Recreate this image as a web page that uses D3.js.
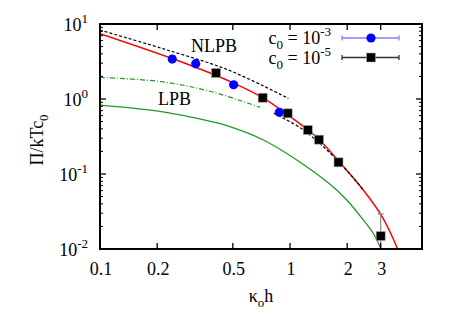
<!DOCTYPE html>
<html>
<head>
<meta charset="utf-8">
<script src="https://cdnjs.cloudflare.com/ajax/libs/d3/7.8.5/d3.min.js"></script>
<style>
    body { margin: 0; background: #fff; }
    text { font-family: "Liberation Serif", "Times New Roman", serif; fill: #000; }
</style>
</head>
<body>
<svg id="chart" width="474" height="332"></svg>
<script>
// tick values
const xTicks = [0.1, 0.2, 0.5, 1, 2, 3];
const yTickExps = [-2, -1, 0, 1];

// simulation points, c0 = 1e-3
const blueX = [0.24, 0.319, 0.505, 0.879];
const blueY = [3.41, 2.96, 1.55, 0.665];

// simulation points, c0 = 1e-5 (with error bar ends)
const blackX = [0.408, 0.718, 0.972, 1.24, 1.42, 1.8, 3.0];
const blackY = [2.22, 1.04, 0.644, 0.386, 0.287, 0.143, 0.0149];
const blackLo = [2.18, 1.02, 0.635, 0.378, 0.28, 0.139, 0.005];
const blackHi = [2.26, 1.06, 0.653, 0.394, 0.294, 0.148, 0.0293];

// theory curves
const redX = [0.1, 0.28, 0.505, 0.718, 0.92, 1.24, 1.42, 1.8, 2.43, 3.04, 3.44, 3.68];
const redY = [7.4, 2.99, 1.63, 1.04, 0.68, 0.39, 0.29, 0.149, 0.0612, 0.0275, 0.0149, 0.01];

const nlpbX1 = [0.1, 0.211, 0.473, 0.98];
const nlpbY1 = [8.3, 4.74, 2.44, 1.02];
const nlpbX2 = [0.82, 1.17, 1.8, 2.43];
const nlpbY2 = [0.645, 0.39, 0.147, 0.0612];

const lpbDashX = [0.1, 0.211, 0.387, 0.696];
const lpbDashY = [1.94, 1.70, 1.25, 0.774];

const lpbX = [0.1, 0.211, 0.387, 0.483, 0.724, 1.085, 1.624, 1.99, 2.43, 2.74, 3.02];
const lpbY = [0.83, 0.678, 0.498, 0.427, 0.284, 0.154, 0.073, 0.045, 0.0244, 0.0162, 0.0098];

let svg = d3.select('#chart');
let pLeft = 100, pRight = 422, pTop = 24, pBottom = 249;

let x = d3.scaleLog().domain([0.1, 4.95]).range([pLeft, pRight]);
let y = d3.scaleLog().domain([0.01, 10]).range([pBottom, pTop]);

svg.append('clipPath').attr('id', 'clip')
    .append('rect')
    .attr('x', pLeft).attr('y', pTop)
    .attr('width', pRight - pLeft).attr('height', pBottom - pTop);

let plot = svg.append('g').attr('clip-path', 'url(#clip)');

function drawCurve(xs, ys, color, width, dash) {
    let pts = xs.map((d, i) => [x(d), y(ys[i])]);
    plot.append('path')
        .attr('d', d3.line().curve(d3.curveCatmullRom.alpha(0.5))(pts))
        .attr('fill', 'none')
        .attr('stroke', color)
        .attr('stroke-width', width)
        .attr('stroke-dasharray', dash);
}

drawCurve(lpbX, lpbY, '#229922', 1.3, null);
drawCurve(lpbDashX, lpbDashY, '#229922', 1.2, '5,2,1,2');
drawCurve(redX, redY, '#ff0000', 1.5, null);
drawCurve(nlpbX1, nlpbY1, '#000', 1.2, '3,2');
drawCurve(nlpbX2, nlpbY2, '#000', 1.2, '3,2');

// error bars for black series
blackX.forEach(function(d, i) {
    let cx = x(d);
    let y1 = y(blackHi[i]), y2 = y(blackLo[i]);
    plot.append('line').attr('x1', cx).attr('x2', cx).attr('y1', y1).attr('y2', y2)
        .attr('stroke', '#888').attr('stroke-width', 1.2);
    plot.append('line').attr('x1', cx - 3).attr('x2', cx + 3).attr('y1', y1).attr('y2', y1)
        .attr('stroke', '#888').attr('stroke-width', 1.2);
});

plot.selectAll('.sq').data(blackX).enter().append('rect')
    .attr('class', 'sq')
    .attr('x', d => x(d) - 4.5)
    .attr('y', (d, i) => y(blackY[i]) - 4.5)
    .attr('width', 9).attr('height', 9)
    .attr('fill', '#000')
    .attr('stroke', '#aaa').attr('stroke-width', 0.6);

plot.selectAll('.dot').data(blueX).enter().append('circle')
    .attr('class', 'dot')
    .attr('cx', d => x(d))
    .attr('cy', (d, i) => y(blueY[i]))
    .attr('r', 4.6)
    .attr('fill', '#0000ff');

// frame
svg.append('rect')
    .attr('x', pLeft).attr('y', pTop)
    .attr('width', pRight - pLeft).attr('height', pBottom - pTop)
    .attr('fill', 'none').attr('stroke', '#000').attr('stroke-width', 2);

// x ticks (bottom and top, inward)
xTicks.forEach(function(t) {
    svg.append('line').attr('x1', x(t)).attr('x2', x(t)).attr('y1', pBottom).attr('y2', pBottom - 6)
        .attr('stroke', '#000').attr('stroke-width', 1.3);
    svg.append('line').attr('x1', x(t)).attr('x2', x(t)).attr('y1', pTop).attr('y2', pTop + 6)
        .attr('stroke', '#000').attr('stroke-width', 1.3);
    svg.append('text')
        .attr('x', x(t) + 1).attr('y', 275)
        .attr('text-anchor', 'middle')
        .style('font-size', '18px')
        .text(t);
});

// y ticks with minors, both sides
yTickExps.forEach(function(e) {
    let v = Math.pow(10, e);
    [[pLeft, 1], [pRight, -1]].forEach(function(s) {
        svg.append('line').attr('x1', s[0]).attr('x2', s[0] + s[1] * 6).attr('y1', y(v)).attr('y2', y(v))
            .attr('stroke', '#000').attr('stroke-width', 1.3);
        if (e < 1) {
            for (let m = 2; m <= 9; m++) {
                svg.append('line').attr('x1', s[0]).attr('x2', s[0] + s[1] * 3)
                    .attr('y1', y(m * v)).attr('y2', y(m * v))
                    .attr('stroke', '#000').attr('stroke-width', 1);
            }
        }
    });
    let lab = svg.append('text')
        .attr('x', 88).attr('y', y(v) + 6.5)
        .attr('text-anchor', 'end')
        .style('font-size', '18px');
    lab.append('tspan').text('10');
    lab.append('tspan').attr('dy', -8).style('font-size', '13px').text(e);
});

// axis titles
let xt = svg.append('text')
    .attr('x', 261).attr('y', 302)
    .attr('text-anchor', 'middle')
    .style('font-size', '18px');
xt.append('tspan').text('\u03ba');
xt.append('tspan').attr('dy', 5).style('font-size', '13px').text('o');
xt.append('tspan').attr('dy', -5).text('h');

let yt = svg.append('text')
    .attr('transform', 'translate(43,140) rotate(-90)')
    .attr('text-anchor', 'middle')
    .style('font-size', '18px');
yt.append('tspan').text('\u03a0/kTc');
yt.append('tspan').attr('dy', 5).style('font-size', '13px').text('0');

// curve labels
svg.append('text').attr('x', 191).attr('y', 52).style('font-size', '18px').text('NLPB');
svg.append('text').attr('x', 158).attr('y', 105).style('font-size', '18px').text('LPB');

// legend
let legend = [
    { exp: '-3', y: 38, line: '#8080ff', mark: 'circle' },
    { exp: '-5', y: 57.5, line: '#333', mark: 'square' }
];
legend.forEach(function(d) {
    let t = svg.append('text')
        .attr('x', 331).attr('y', d.y + 6)
        .attr('text-anchor', 'end')
        .style('font-size', '18px');
    t.append('tspan').text('c');
    t.append('tspan').attr('dy', 5).style('font-size', '13px').text('0');
    t.append('tspan').attr('dy', -5).text(' = 10');
    t.append('tspan').attr('dy', -8).style('font-size', '13px').text(d.exp);

    svg.append('line').attr('x1', 342).attr('x2', 399).attr('y1', d.y).attr('y2', d.y)
        .attr('stroke', d.line).attr('stroke-width', 1.3);
    [342, 399].forEach(function(cx) {
        svg.append('line').attr('x1', cx).attr('x2', cx).attr('y1', d.y - 2.5).attr('y2', d.y + 2.5)
            .attr('stroke', d.line).attr('stroke-width', 1.3);
    });
    if (d.mark === 'circle') {
        svg.append('circle').attr('cx', 371).attr('cy', d.y).attr('r', 4.6).attr('fill', '#0000ff');
    } else {
        svg.append('rect').attr('x', 366.5).attr('y', d.y - 4.5).attr('width', 9).attr('height', 9)
            .attr('fill', '#000').attr('stroke', '#aaa').attr('stroke-width', 0.6);
    }
});
</script>
</body>
</html>
